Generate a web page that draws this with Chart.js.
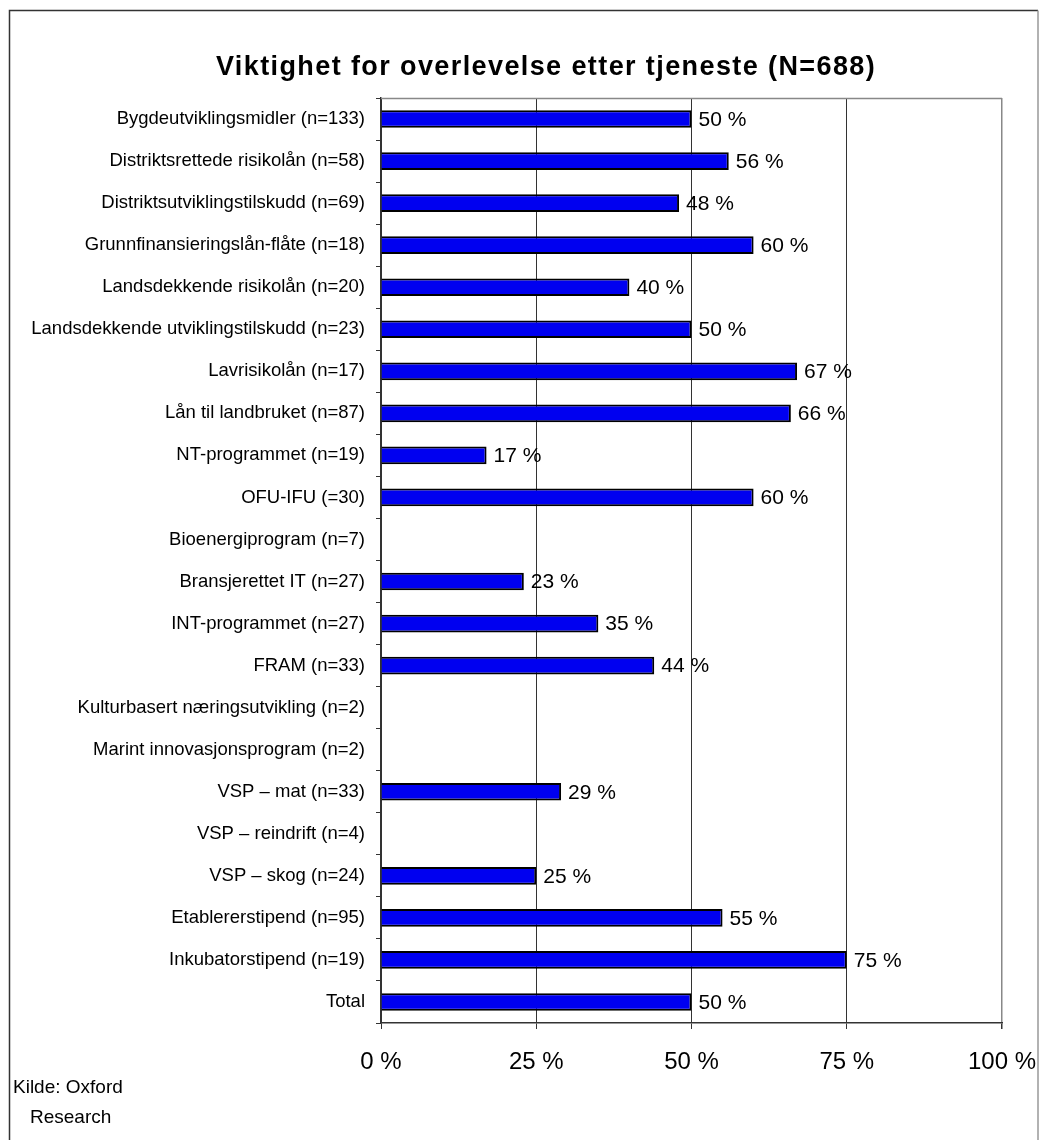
<!DOCTYPE html>
<html>
<head>
<meta charset="utf-8">
<script src="https://cdn.jsdelivr.net/npm/chart.js@4/dist/chart.umd.min.js"></script>
<style>
    html, body { margin: 0; padding: 0; background: #fff; }
    #wrap { width: 1039px; height: 1140px; }
</style>
</head>
<body>
<div id="wrap"><canvas id="myChart" width="1039" height="1140"></canvas></div>
<script>
var chartTitle = 'Viktighet for overlevelse etter tjeneste (N=688)';
var sourceLines = ['Kilde: Oxford', 'Research'];

var categories = [
    'Bygdeutviklingsmidler (n=133)',
    'Distriktsrettede risikolån (n=58)',
    'Distriktsutviklingstilskudd (n=69)',
    'Grunnfinansieringslån-flåte (n=18)',
    'Landsdekkende risikolån (n=20)',
    'Landsdekkende utviklingstilskudd (n=23)',
    'Lavrisikolån (n=17)',
    'Lån til landbruket (n=87)',
    'NT-programmet (n=19)',
    'OFU-IFU (=30)',
    'Bioenergiprogram (n=7)',
    'Bransjerettet IT (n=27)',
    'INT-programmet (n=27)',
    'FRAM (n=33)',
    'Kulturbasert næringsutvikling (n=2)',
    'Marint innovasjonsprogram (n=2)',
    'VSP – mat (n=33)',
    'VSP – reindrift (n=4)',
    'VSP – skog (n=24)',
    'Etablererstipend (n=95)',
    'Inkubatorstipend (n=19)',
    'Total'
];

// share (%) saying the service was important for survival
var values = [50, 56, 48, 60, 40, 50, 67, 66, 17, 60, null, 23, 35, 44, null, null, 29, null, 25, 55, 75, 50];

var xTicks = [0, 25, 50, 75, 100];

var FONT = "'Liberation Sans', Arial, sans-serif";

// outer frame, title, plot border and source note
var decorations = {
    id: 'decorations',
    beforeDraw: function (chart) {
        var ctx = chart.ctx;
        ctx.save();
        ctx.fillStyle = '#fff';
        ctx.fillRect(0, 0, chart.width, chart.height);
        ctx.lineWidth = 1.5;
        ctx.strokeStyle = '#333';
        ctx.beginPath();
        ctx.moveTo(9.5, 1140);
        ctx.lineTo(9.5, 10.5);
        ctx.lineTo(1038, 10.5);
        ctx.stroke();
        ctx.strokeStyle = '#999';
        ctx.beginPath();
        ctx.moveTo(1038, 10.5);
        ctx.lineTo(1038, 1140);
        ctx.stroke();
        ctx.restore();
    },
    afterDraw: function (chart) {
        var ctx = chart.ctx;
        var area = chart.chartArea;
        ctx.save();
        ctx.strokeStyle = '#888';
        ctx.lineWidth = 1.5;
        ctx.beginPath();
        ctx.moveTo(area.left, area.top + 0.5);
        ctx.lineTo(area.right, area.top + 0.5);
        ctx.stroke();

        ctx.fillStyle = '#000';
        ctx.font = 'bold 27px ' + FONT;
        ctx.letterSpacing = '1.4px';
        ctx.textAlign = 'center';
        ctx.textBaseline = 'middle';
        ctx.fillText(chartTitle, 546, 68);

        ctx.letterSpacing = '0px';
        ctx.font = '19px ' + FONT;
        ctx.textAlign = 'left';
        ctx.fillText(sourceLines[0], 13, 1088);
        ctx.fillText(sourceLines[1], 30, 1118);
        ctx.restore();
    }
};

// value labels to the right of every bar
var barLabels = {
    id: 'barLabels',
    afterDatasetsDraw: function (chart) {
        var ctx = chart.ctx;
        var meta = chart.getDatasetMeta(0);
        ctx.save();
        ctx.fillStyle = '#000';
        ctx.font = '21px ' + FONT;
        ctx.textAlign = 'left';
        ctx.textBaseline = 'middle';
        meta.data.forEach(function (bar, i) {
            var v = values[i];
            if (v === null) {
                return;
            }
            ctx.fillText(v + ' %', bar.x + 7, bar.y + 1);
        });
        ctx.restore();
    }
};

var ctx = document.getElementById('myChart').getContext('2d');
var myChart = new Chart(ctx, {
    type: 'bar',
    data: {
        labels: categories,
        datasets: [{
            data: values,
            backgroundColor: '#0000F0',
            borderColor: '#000',
            borderWidth: 2,
            borderSkipped: 'start',
            categoryPercentage: 1,
            barPercentage: 0.42
        }]
    },
    options: {
        indexAxis: 'y',
        responsive: false,
        animation: false,
        layout: {
            padding: { top: 98, right: 37, left: 0, bottom: 0 }
        },
        plugins: {
            legend: { display: false },
            title: { display: false },
            tooltip: { enabled: false }
        },
        scales: {
            x: {
                min: 0,
                max: 100,
                afterBuildTicks: function (scale) {
                    scale.ticks = xTicks.map(function (v) { return { value: v }; });
                },
                afterFit: function (scale) {
                    scale.height = 117;
                    scale.paddingLeft = 0;
                    scale.paddingRight = 0;
                },
                border: { color: '#333', width: 1.5 },
                grid: {
                    color: function (c) {
                        return c.tick && c.tick.value === 100 ? '#888' : '#333';
                    },
                    lineWidth: function (c) {
                        return c.tick && c.tick.value === 100 ? 1.5 : 1;
                    },
                    tickColor: '#333',
                    tickLength: 6
                },
                ticks: {
                    color: '#000',
                    font: { family: FONT, size: 24 },
                    padding: 19,
                    callback: function (v) { return v + ' %'; }
                }
            },
            y: {
                afterFit: function (scale) {
                    scale.width = 381;
                    scale.paddingTop = 0;
                    scale.paddingBottom = 0;
                },
                border: { color: '#333', width: 1.5 },
                grid: {
                    offset: true,
                    drawOnChartArea: false,
                    tickColor: '#333',
                    tickLength: 5
                },
                ticks: {
                    color: '#000',
                    font: { family: FONT, size: 18.5 },
                    padding: 11,
                    autoSkip: false
                }
            }
        }
    },
    plugins: [decorations, barLabels]
});
</script>
</body>
</html>
